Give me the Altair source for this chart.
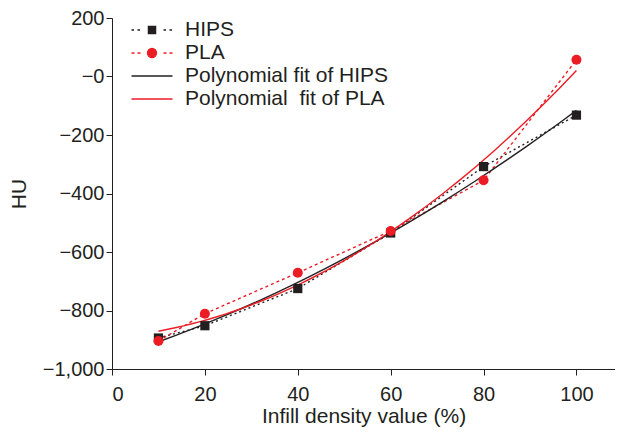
import altair as alt
import pandas as pd

# ---- data ----
infill = [10, 20, 40, 60, 80, 100]
hips_hu = [-894, -852, -725, -535, -308, -132]
pla_hu = [-904, -811, -671, -528, -355, 57]
series_names = ["HIPS", "PLA"]
legend_labels = ["HIPS", "PLA", "Polynomial fit of HIPS", "Polynomial\u00a0 fit of PLA"]
x_ticks = [0, 20, 40, 60, 80, 100]
y_ticks = [-1000, -800, -600, -400, -200, 0, 200]

BLACK = "#231f20"
RED = "#ec1c24"
FONT = "Liberation Sans"

df = pd.DataFrame({
    "infill": infill + infill,
    "hu": hips_hu + pla_hu,
    "series": ["HIPS"] * len(infill) + ["PLA"] * len(infill),
})
legend_df = pd.DataFrame({"series": legend_labels})

xenc = alt.X(
    "infill:Q",
    scale=alt.Scale(domain=[0, 108.3], nice=False, zero=False),
    axis=alt.Axis(values=x_ticks, title="Infill density value (%)", labelPadding=9,
                  titleY=53, titleBaseline="alphabetic"),
)
yenc = alt.Y(
    "hu:Q",
    scale=alt.Scale(domain=[-1000, 200], nice=False, zero=False),
    axis=alt.Axis(values=y_ticks, title="HU", labelPadding=2,
                  labelExpr="datum.value == 0 ? '\u22120' : format(datum.value, ',')",
                  titleX=-87, titleY=175.5, titleAngle=-90, titleBaseline="alphabetic",
                  titleAlign="center"),
)
col = alt.Color("series:N", scale=alt.Scale(domain=series_names, range=[BLACK, RED]), legend=None)

base = alt.Chart(df)

dotted = base.mark_line(strokeWidth=1.4).encode(
    x=xenc, y=yenc, color=col,
    strokeDash=alt.StrokeDash("series:N",
                              scale=alt.Scale(domain=series_names, range=[[2, 3], [3, 3]]),
                              legend=None),
)

fits = base.transform_regression(
    "infill", "hu", groupby=["series"], method="poly", order=2, extent=[10, 100]
).mark_line(strokeWidth=1.4).encode(
    x=alt.X("infill:Q"), y=alt.Y("hu:Q"), color=col,
)

pts_hips = base.transform_filter(alt.datum.series == "HIPS").mark_point(
    filled=True, opacity=1, shape="square", size=85
).encode(x=xenc, y=yenc, color=col)

pts_pla = base.transform_filter(alt.datum.series == "PLA").mark_point(
    filled=True, opacity=1, shape="circle", size=100
).encode(x=xenc, y=yenc, color=col)

# legend symbols: dotted line with marker / solid line (custom SVG paths)
p_hips = ("M-2.05,0H-1.8M-1.45,0H-1.2M1.15,0H1.4M1.75,0H2"
          "M-0.36,-0.36H0.36V0.36H-0.36Z")
p_pla = ("M-2.05,0H-1.75M-1.45,0H-1.15M1.15,0H1.45M1.75,0H2.05"
         "M-0.45,0A0.45,0.45 0 1,0 0.45,0A0.45,0.45 0 1,0 -0.45,0Z")
p_fit = "M-2.05,0H2.05"

leg_def = alt.Legend(title=None, orient="none", legendX=29, legendY=1,
                     labelFontSize=21, labelFont=FONT, labelColor=BLACK,
                     symbolSize=400, symbolStrokeWidth=1.3, labelOffset=22,
                     rowPadding=2, labelLimit=400)
leg_scale_c = alt.Scale(domain=legend_labels, range=[BLACK, RED, BLACK, RED])
legend_layer = alt.Chart(legend_df).transform_filter("false").mark_point(
    filled=True, opacity=1, strokeWidth=1.3
).encode(
    fill=alt.Fill("series:N", scale=leg_scale_c, legend=leg_def),
    stroke=alt.Stroke("series:N", scale=leg_scale_c, legend=leg_def),
    shape=alt.Shape("series:N", scale=alt.Scale(domain=legend_labels,
                                                range=[p_hips, p_pla, p_fit, p_fit]),
                    legend=leg_def),
)

chart = alt.layer(dotted, fits, pts_hips, pts_pla, legend_layer).properties(
    width=503, height=351,
    autosize=alt.AutoSizeParams(type="none"),
    padding={"left": 104, "top": 10, "right": 0, "bottom": 59},
    background="white",
).configure_view(stroke="transparent").configure_axis(
    grid=False, domainColor=BLACK, domainWidth=1, tickColor=BLACK, tickWidth=1, tickSize=6,
    labelFont=FONT, labelFontSize=20, labelColor=BLACK,
    titleFont=FONT, titleFontSize=21, titleFontWeight="normal", titleColor=BLACK,
)

chart.save("out.html", embed_options={"renderer": "svg", "actions": False})
